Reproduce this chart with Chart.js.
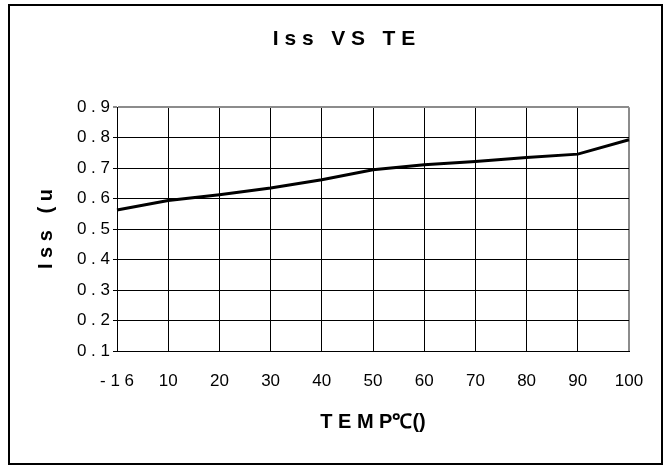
<!DOCTYPE html>
<html>
<head>
<meta charset="utf-8">
<script src="https://cdn.jsdelivr.net/npm/chart.js@4.4.1/dist/chart.umd.min.js"></script>
<style>
  html, body { margin: 0; padding: 0; background: #fff; }
</style>
</head>
<body>
<canvas id="canvas" width="667" height="467"></canvas>
<script>
var tempLabels = ['- 1 6', '10', '20', '30', '40', '50', '60', '70', '80', '90', '100'];
var issValues = [0.563, 0.594, 0.613, 0.635, 0.662, 0.695, 0.711, 0.722, 0.735, 0.746, 0.793];
var yTickLabels = ['0 . 1', '0 . 2', '0 . 3', '0 . 4', '0 . 5', '0 . 6', '0 . 7', '0 . 8', '0 . 9'];

var fontName = "'Liberation Sans', Arial, sans-serif";

// white page + black frame round the whole chart
var framePlugin = {
    id: 'frame',
    beforeDraw: function (chart) {
        var ctx = chart.ctx;
        ctx.save();
        ctx.fillStyle = '#fff';
        ctx.fillRect(0, 0, chart.width, chart.height);
        ctx.restore();
    },
    afterDraw: function (chart) {
        var ctx = chart.ctx;
        ctx.save();
        ctx.strokeStyle = '#000';
        ctx.lineWidth = 2;
        ctx.strokeRect(9, 5, 653, 459);
        ctx.restore();
    }
};

function gridColor(count) {
    return function (c) {
        return c.index === count - 1 ? '#8c8c8c' : '#000';
    };
}
function gridWidth(count) {
    return function (c) {
        return c.index === count - 1 ? 2 : 1;
    };
}

var config = {
    type: 'line',
    data: {
        labels: tempLabels,
        datasets: [{
            label: 'Iss',
            data: issValues,
            borderColor: '#000',
            borderWidth: 3,
            pointRadius: 0,
            tension: 0,
            fill: false
        }]
    },
    options: {
        responsive: false,
        animation: false,
        layout: { padding: { left: 59, right: 38, top: 0, bottom: 0 } },
        plugins: {
            legend: { display: false },
            tooltip: { enabled: false },
            title: {
                display: true,
                text: 'I s s   V S   T E',
                color: '#000',
                font: { family: fontName, size: 21, weight: 'bold' },
                padding: { top: 27, bottom: 55 }
            }
        },
        scales: {
            x: {
                type: 'category',
                offset: false,
                grid: {
                    color: gridColor(tempLabels.length),
                    lineWidth: gridWidth(tempLabels.length),
                    drawTicks: false
                },
                border: { color: '#000', width: 1 },
                ticks: {
                    color: '#000',
                    padding: 20,
                    maxRotation: 0,
                    autoSkip: false,
                    font: { family: fontName, size: 17 }
                },
                title: {
                    display: true,
                    text: 'T E M P℃()',
                    color: '#000',
                    font: { family: fontName, size: 20, weight: 'bold' },
                    padding: { top: 0, bottom: 33 }
                },
                afterFit: function (s) { s.height = 116; }
            },
            y: {
                min: 0.1,
                max: 0.9,
                grid: {
                    color: gridColor(yTickLabels.length),
                    lineWidth: gridWidth(yTickLabels.length),
                    tickLength: 4
                },
                border: { color: '#000', width: 1 },
                ticks: {
                    stepSize: 0.1,
                    color: '#000',
                    padding: 3,
                    font: { family: fontName, size: 17 },
                    callback: function (v, i) { return yTickLabels[i]; }
                },
                title: {
                    display: true,
                    text: 'I s s   ( u',
                    color: '#000',
                    font: { family: fontName, size: 20, weight: 'bold' },
                    padding: { top: -25, bottom: 0 }
                },
                afterFit: function (s) { s.width = 58; }
            }
        }
    },
    plugins: [framePlugin]
};

window.issChart = new Chart(document.getElementById('canvas'), config);
</script>
</body>
</html>
